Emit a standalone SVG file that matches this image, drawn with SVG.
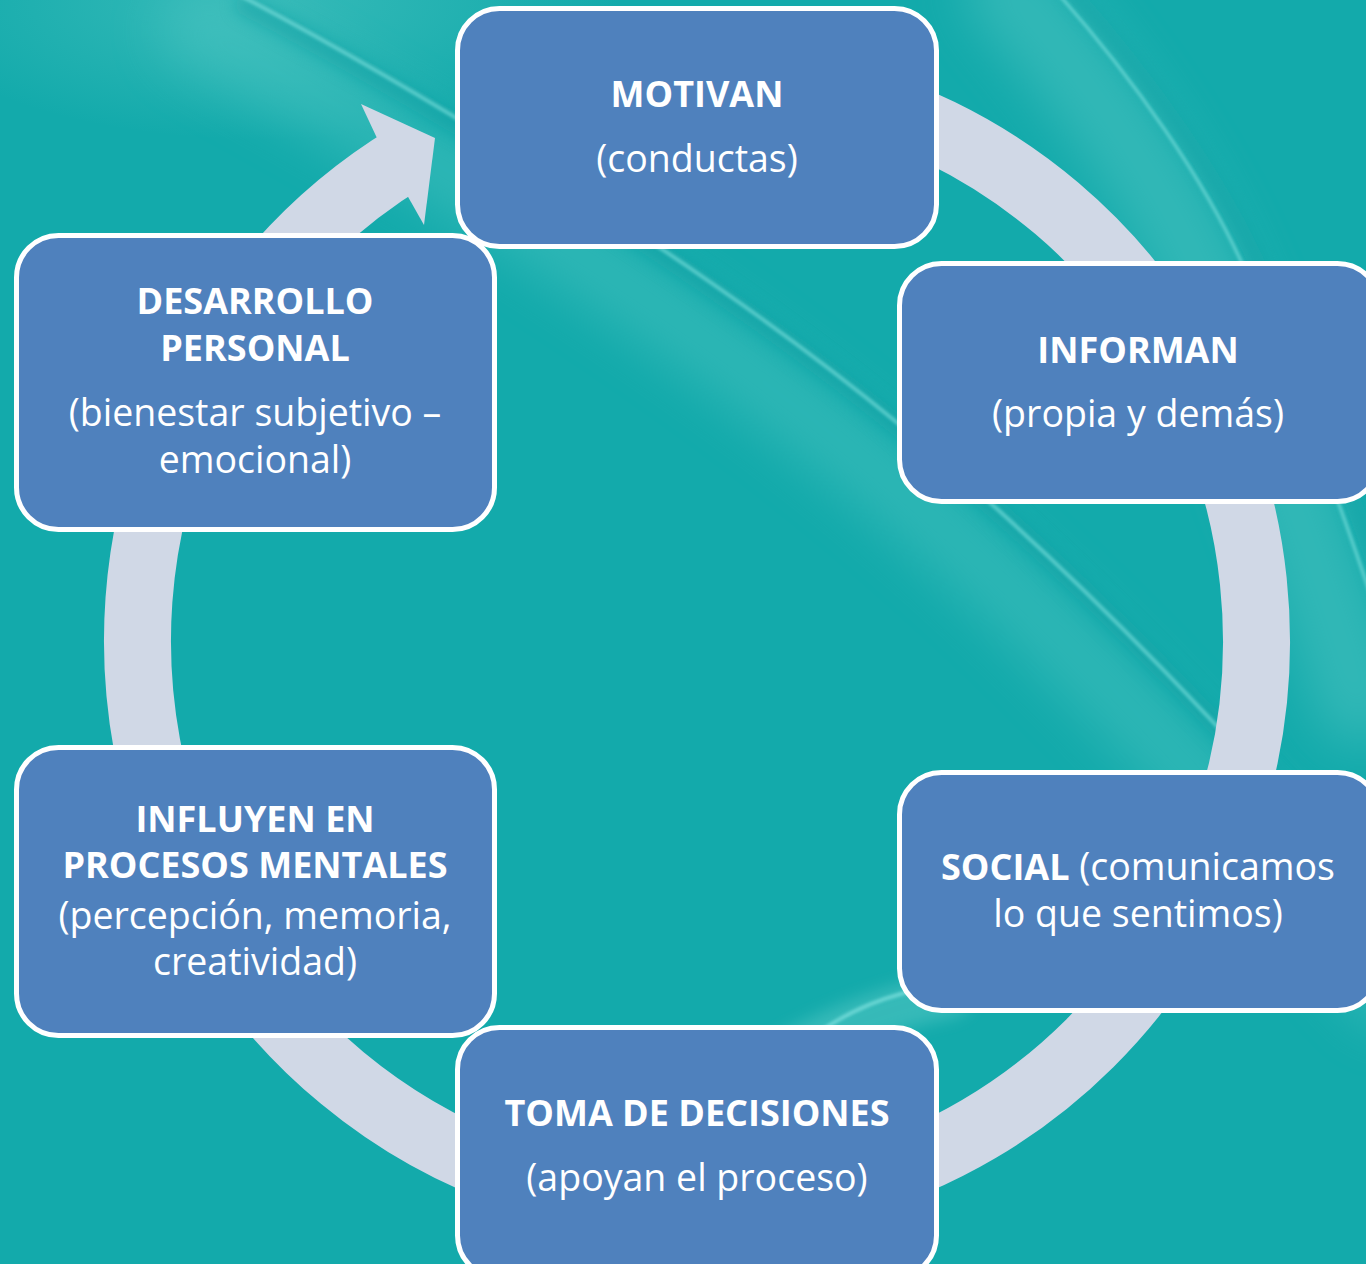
<svg xmlns="http://www.w3.org/2000/svg" width="1366" height="1264" viewBox="0 0 1366 1264">
  <defs>
    <style>
      .box { fill: #4F81BD; stroke: #FFFFFF; stroke-width: 5; }
      .t { font-family: "Open Sans", "Liberation Sans", sans-serif; font-size: 37.5px; fill: #FFFFFF; text-anchor: middle; }
      .b { font-weight: bold; font-size: 36px; }
      .ring { fill: none; stroke: #D0D8E6; stroke-width: 67; }
      .glow { fill: none; stroke-linecap: round; }
    </style>
    <filter id="blurBig" x="-50%" y="-50%" width="200%" height="200%"><feGaussianBlur stdDeviation="26"/></filter>
    <filter id="blurMid" x="-50%" y="-50%" width="200%" height="200%"><feGaussianBlur stdDeviation="8"/></filter>
    <filter id="blurSm" x="-50%" y="-50%" width="200%" height="200%"><feGaussianBlur stdDeviation="1.8"/></filter>
    <radialGradient id="topGlow" cx="0.5" cy="0.5" r="0.5">
      <stop offset="0" stop-color="#5ACBC6" stop-opacity="0.5"/>
      <stop offset="1" stop-color="#5ACBC6" stop-opacity="0"/>
    </radialGradient>
  </defs>

  <!-- background -->
  <g id="background">
    <rect x="0" y="0" width="1366" height="1264" fill="#13AAAB"/>
    <ellipse cx="260" cy="0" rx="360" ry="140" fill="url(#topGlow)"/>
    <!-- streak A -->
    <path class="glow" d="M 200 30 C 390 130, 670 300, 870 465 S 1220 800, 1390 990" stroke="#5FCDC9" stroke-width="80" opacity="0.35" filter="url(#blurBig)"/>
    <path class="glow" d="M 245 5 C 435 105, 715 275, 915 440 S 1265 775, 1435 965" stroke="#0D9EA2" stroke-width="20" opacity="0.5" filter="url(#blurMid)"/>
    <path class="glow" d="M 230 -10 C 420 90, 700 260, 900 425 S 1250 760, 1420 950" stroke="#7FE2DF" stroke-width="4" opacity="0.6" filter="url(#blurSm)"/>
    <!-- streak B -->
    <path class="glow" d="M 1010 -10 C 1090 80, 1160 180, 1200 270 S 1290 480, 1360 700" stroke="#62CDC9" stroke-width="90" opacity="0.4" filter="url(#blurBig)"/>
    <path class="glow" d="M 1070 -10 C 1150 80, 1220 180, 1260 270 S 1350 480, 1420 700" stroke="#0D9EA2" stroke-width="16" opacity="0.45" filter="url(#blurMid)"/>
    <path class="glow" d="M 1055 -10 C 1135 80, 1205 180, 1245 270 S 1335 480, 1405 700" stroke="#7FE2DF" stroke-width="3.5" opacity="0.6" filter="url(#blurSm)"/>
    <!-- streak C -->
    <path class="glow" d="M 780 1060 C 830 1030, 880 1010, 950 995" stroke="#62CDC9" stroke-width="45" opacity="0.45" filter="url(#blurMid)"/>
    <path class="glow" d="M 815 1035 C 850 1010, 885 995, 940 985" stroke="#7FE2DF" stroke-width="4" opacity="0.7" filter="url(#blurSm)"/>
  </g>

  <!-- connectors: circular arrow -->
  <g id="connectors">
    <path class="ring" d="M 697 76 A 559.5 565 0 1 1 408.8 156.7"/>
    <polygon points="376,136 361,104 435,138 424,225 407,195" fill="#D0D8E6"/>
  </g>

  <!-- nodes -->
  <g id="node-motivan">
    <rect class="box" x="457.5" y="8.5" width="479" height="238" rx="42" ry="42"/>
    <text class="t b" x="697" y="107">MOTIVAN</text>
    <text class="t" x="697" y="172">(conductas)</text>
  </g>

  <g id="node-informan">
    <rect class="box" x="899.5" y="263.5" width="480" height="238" rx="42" ry="42"/>
    <text class="t b" x="1138" y="363">INFORMAN</text>
    <text class="t" x="1138" y="427">(propia y demás)</text>
  </g>

  <g id="node-social">
    <rect class="box" x="899.5" y="772.5" width="480" height="238" rx="42" ry="42"/>
    <text class="t" x="1138" y="880"><tspan class="b">SOCIAL</tspan> (comunicamos</text>
    <text class="t" x="1138" y="927">lo que sentimos)</text>
  </g>

  <g id="node-toma">
    <rect class="box" x="457.5" y="1027.5" width="479" height="250" rx="42" ry="42"/>
    <text class="t b" x="697" y="1126">TOMA DE DECISIONES</text>
    <text class="t" x="697" y="1191">(apoyan el proceso)</text>
  </g>

  <g id="node-influyen">
    <rect class="box" x="16.5" y="747.5" width="478" height="288" rx="42" ry="42"/>
    <text class="t b" x="255" y="832">INFLUYEN EN</text>
    <text class="t b" x="255" y="878">PROCESOS MENTALES</text>
    <text class="t" x="255" y="929">(percepción, memoria,</text>
    <text class="t" x="255" y="975">creatividad)</text>
  </g>

  <g id="node-desarrollo">
    <rect class="box" x="16.5" y="235.5" width="478" height="294" rx="42" ry="42"/>
    <text class="t b" x="255" y="314">DESARROLLO</text>
    <text class="t b" x="255" y="361">PERSONAL</text>
    <text class="t" x="255" y="426">(bienestar subjetivo –</text>
    <text class="t" x="255" y="473">emocional)</text>
  </g>
</svg>
